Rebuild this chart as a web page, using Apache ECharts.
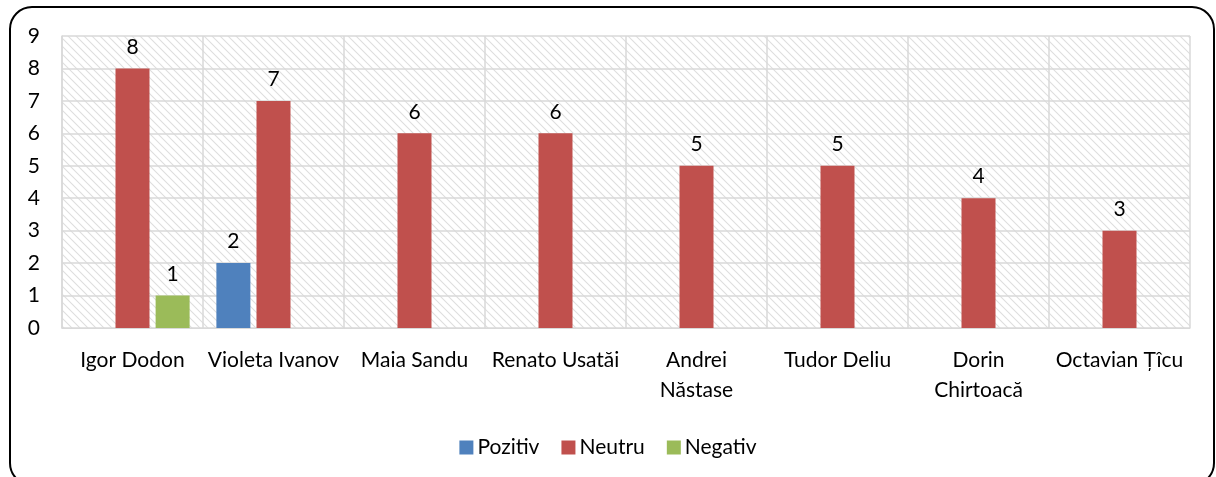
<!DOCTYPE html>
<html>
<head>
<meta charset="utf-8">
<script src="https://cdn.jsdelivr.net/npm/echarts@6/dist/echarts.min.js"></script>
<style>
  html, body { margin: 0; padding: 0; background: #ffffff; }
  #chart { width: 1216px; height: 477px; }
</style>
</head>
<body>
<div id="chart"></div>
<script>
// Category labels (line breaks where the label wraps under its column)
const categories = [
  'Igor Dodon', 'Violeta Ivanov', 'Maia Sandu', 'Renato Usatăi',
  'Andrei\nNăstase', 'Tudor Deliu', 'Dorin\nChirtoacă', 'Octavian Țîcu'
];

// Mentions per tone
const pozitiv = [null, 2, null, null, null, null, null, null];
const neutru  = [8, 7, 6, 6, 5, 5, 4, 3];
const negativ = [1, null, null, null, null, null, null, null];

const seriesNames = ['Pozitiv', 'Neutru', 'Negativ'];
const yTicks = [0, 1, 2, 3, 4, 5, 6, 7, 8, 9];

const FONT = 'Lato';
const TEXT = '#000000';
const FS = 21;

// Diagonal hatch tile for the plot background
function hatchTile() {
  const c = document.createElement('canvas');
  c.width = 8; c.height = 8;
  const g = c.getContext('2d');
  g.fillStyle = '#ffffff';
  g.fillRect(0, 0, 8, 8);
  g.strokeStyle = '#dedede';
  g.lineWidth = 1.1;
  g.beginPath();
  g.moveTo(-1, -1); g.lineTo(9, 9);
  g.moveTo(-5, 3); g.lineTo(5, 13);
  g.moveTo(3, -5); g.lineTo(13, 5);
  g.stroke();
  return c;
}

const chart = echarts.init(document.getElementById('chart'), null, { renderer: 'canvas' });

const barLabel = {
  show: true,
  position: 'top',
  distance: 11,
  color: TEXT,
  fontFamily: FONT,
  fontSize: FS
};

chart.setOption({
  animation: false,
  backgroundColor: '#ffffff',
  textStyle: { fontFamily: FONT },
  graphic: [{
    type: 'rect',
    shape: { x: 10, y: 7, width: 1204, height: 478, r: 22 },
    style: { fill: 'none', stroke: '#000000', lineWidth: 2 },
    silent: true,
    z: 100
  }],
  grid: {
    left: 62, right: 26, top: 36, bottom: 149,
    show: true,
    borderWidth: 0,
    backgroundColor: { image: hatchTile(), repeat: 'repeat' }
  },
  legend: {
    data: seriesNames,
    left: 'center',
    top: 432,
    itemWidth: 14,
    itemHeight: 14,
    itemGap: 22,
    icon: 'rect',
    textStyle: { color: TEXT, fontFamily: FONT, fontSize: FS, padding: [0, 0, 0, -1] }
  },
  xAxis: {
    type: 'category',
    data: categories,
    axisLine: { show: true, lineStyle: { color: '#d9d9d9', width: 1 } },
    axisTick: { show: false },
    splitLine: { show: true, interval: 0, lineStyle: { color: '#d9d9d9', width: 1.5 } },
    axisLabel: {
      interval: 0,
      color: TEXT,
      fontFamily: FONT,
      fontSize: FS,
      lineHeight: 30,
      margin: 17
    }
  },
  yAxis: {
    type: 'value',
    min: 0,
    max: 9,
    interval: 1,
    axisLine: { show: true, lineStyle: { color: '#d9d9d9', width: 1.5 } },
    axisTick: { show: false },
    splitLine: { lineStyle: { color: '#d9d9d9', width: 1.5 } },
    axisLabel: {
      color: TEXT,
      fontFamily: FONT,
      fontSize: FS,
      margin: 22,
      formatter: v => (yTicks.includes(v) ? String(v) : '')
    }
  },
  series: [
    {
      name: seriesNames[0], type: 'bar', data: pozitiv,
      barWidth: 34, barGap: '18%',
      itemStyle: { color: '#4f81bd' }, label: barLabel
    },
    {
      name: seriesNames[1], type: 'bar', data: neutru,
      barWidth: 34, barGap: '18%',
      itemStyle: { color: '#c0504d' }, label: barLabel
    },
    {
      name: seriesNames[2], type: 'bar', data: negativ,
      barWidth: 34, barGap: '18%',
      itemStyle: { color: '#9bbb59' }, label: barLabel
    }
  ]
});
</script>
</body>
</html>
